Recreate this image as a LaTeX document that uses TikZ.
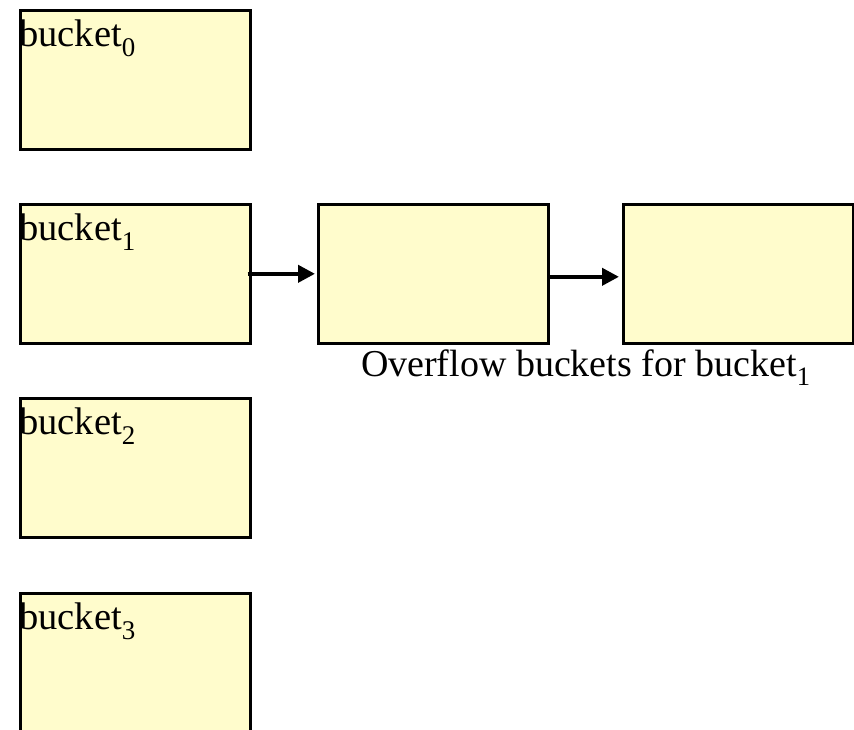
\documentclass[tikz,border=0pt]{standalone}
\usepackage{fontspec}
\setmainfont{Liberation Serif}
\usepackage{tikz}
\usetikzlibrary{positioning,arrows.meta,calc}

\begin{document}
\begin{tikzpicture}[
  x=1pt, y=-1pt,
  bucket/.style={rectangle, draw, line width=2.6pt, fill=yellow!20, minimum width=230pt, minimum height=139pt, anchor=north west, inner sep=0pt},
  lbl/.style={font=\fontsize{38.5}{42}\selectfont, inner sep=0pt, anchor=north west},
  arr/.style={-{Triangle[length=17pt,width=17pt]}, line width=4pt}
]
\clip (0,0) rectangle (854,729);

% Buckets
\node[bucket] (b0) at (19,9) {};
\node[bucket] (b1) at (19,203) {};
\node[bucket] (b2) at (19,397) {};
\node[bucket] (b3) at (19,592) {};

\node[lbl] (t0) at ([yshift=-11pt]b0.north west) {bucket\textsubscript{0}};
\node[lbl] (t1) at ([yshift=-11pt]b1.north west) {bucket\textsubscript{1}};
\node[lbl] (t2) at ([yshift=-11pt]b2.north west) {bucket\textsubscript{2}};
\node[lbl] (t3) at ([yshift=-11pt]b3.north west) {bucket\textsubscript{3}};

% Overflow chain
\node[bucket] (ov1) at (317,203) {};
\node[bucket] (ov2) at (622,203) {};

\draw[arr] ([xshift=-4pt]b1.east) -- ([xshift=-2pt]ov1.west);
\draw[arr] ([yshift=-3pt]ov1.east) -- ([yshift=-3pt,xshift=-3pt]ov2.west);

% Caption
\node[font=\fontsize{38}{42}\selectfont, anchor=north] (cap) at ([yshift=-2pt]$(ov1.south)!0.5!(ov2.south)$) {Overflow buckets for bucket\textsubscript{1}};
\end{tikzpicture}
\end{document}
